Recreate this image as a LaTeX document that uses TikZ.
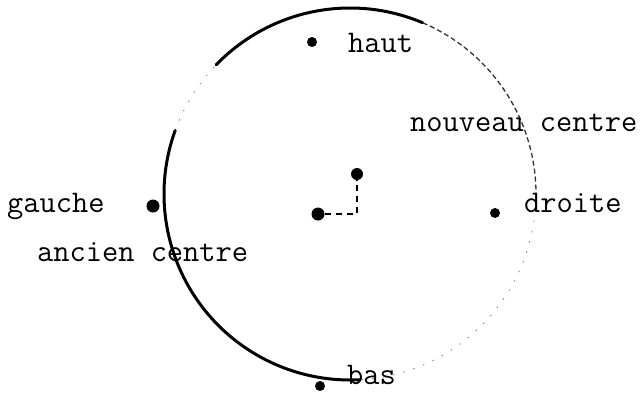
\documentclass[tikz,border=0pt]{standalone}
\begin{document}
\begin{tikzpicture}[x=1pt,y=-1pt,
  lbl/.style={anchor=base west,inner sep=0pt,font=\ttfamily\fontsize{31.5}{36}\selectfont},
  pt/.style={circle,fill=black,inner sep=0pt,minimum size=10pt},
  thickarc/.style={line width=3pt,line cap=round},
  thinarc/.style={line width=1.3pt,dash pattern=on 5pt off 3pt,black!80},
  faintarc/.style={line width=0.8pt,dash pattern=on 1.5pt off 9pt,black!50}]
\useasboundingbox (0,0) rectangle (640,392);
\coordinate (c) at (350,194);
% circle parts
\draw[thickarc] (c) ++(-136:186) arc[start angle=-136,end angle=-67,radius=186];
\draw[thinarc] (c) ++(-67:186) arc[start angle=-67,end angle=5,radius=186];
\draw[faintarc] (c) ++(5:186) arc[start angle=5,end angle=87,radius=186];
\draw[faintarc] (c) ++(-160:186) arc[start angle=-160,end angle=-136,radius=186];
\draw[thickarc] (c) ++(-160:186) arc[start angle=-160,end angle=-273,radius=186];
% dots
\node[pt] (haut) at (312,42) {};
\node[pt,minimum width=13pt,minimum height=10pt] (gauche) at (153,206) {};
\node[pt] (droite) at (495,213) {};
\node[pt] (bas) at (320,386) {};
\node[pt,minimum size=12pt] (nouv) at (357,174) {};
\node[pt,minimum width=13pt,minimum height=10pt] (anc) at (318,214) {};
\draw[line width=1.5pt,dash pattern=on 6pt off 5pt] (anc.east) -| (nouv.south);
% labels
\node[lbl] (thaut) at (348,52) {haut};
\node[lbl] (tnouv) at (410,131) {nouveau centre};
\node[lbl] (tgauche) at (7,212) {gauche};
\node[lbl] (tdroite) at (524,212) {droite};
\node[lbl] (tanc) at (37,261) {ancien centre};
\node[lbl] (tbas) at (347,384) {bas};
\end{tikzpicture}
\end{document}
